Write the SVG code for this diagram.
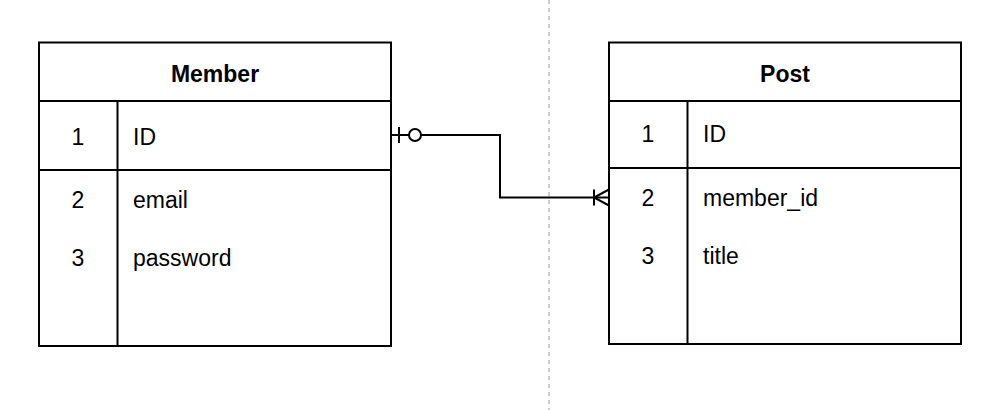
<svg xmlns="http://www.w3.org/2000/svg" width="997" height="410" viewBox="0 0 997 410">
<style>
.box{fill:#fff;stroke:#000;stroke-width:2}
.ln{stroke:#000;stroke-width:2;fill:none}
.t{font-family:"Liberation Sans",Arial,sans-serif;font-size:23px;fill:#000}
.h{font-family:"Liberation Sans",Arial,sans-serif;font-size:23px;font-weight:bold;fill:#000;text-anchor:middle}
.n{text-anchor:middle}
</style>
<rect width="997" height="410" fill="#fff"/>
<line x1="549" y1="0" x2="549" y2="410" stroke="#ccc" stroke-width="2" stroke-dasharray="4 4"/>
<g id="member">
<rect class="box" x="39" y="42.5" width="352" height="303.5"/>
<line class="ln" x1="39" y1="101" x2="391" y2="101"/>
<line class="ln" x1="39" y1="170" x2="391" y2="170"/>
<line class="ln" x1="117.5" y1="101" x2="117.5" y2="346"/>
<text class="h" x="215" y="81.5">Member</text>
<text class="t n" x="78" y="145">1</text>
<text class="t" x="133" y="145">ID</text>
<text class="t n" x="78" y="208">2</text>
<text class="t" x="133" y="208">email</text>
<text class="t n" x="78" y="266">3</text>
<text class="t" x="133" y="266">password</text>
</g>
<g id="post">
<rect class="box" x="609" y="42.5" width="352" height="301.5"/>
<line class="ln" x1="609" y1="101" x2="961" y2="101"/>
<line class="ln" x1="609" y1="168" x2="961" y2="168"/>
<line class="ln" x1="687.5" y1="101" x2="687.5" y2="344"/>
<text class="h" x="785" y="81.5">Post</text>
<text class="t n" x="648" y="142">1</text>
<text class="t" x="703" y="142">ID</text>
<text class="t n" x="648" y="206">2</text>
<text class="t" x="703" y="206">member_id</text>
<text class="t n" x="648" y="264">3</text>
<text class="t" x="703" y="264">title</text>
</g>
<g id="connectors">
<path class="ln" d="M391 135 H409 M421 135 H500 V197.5 H609"/>
<line class="ln" x1="399" y1="127" x2="399" y2="143"/>
<circle class="ln" cx="415" cy="135" r="6"/>
<path class="ln" d="M609 189.5 L594 197.5 L609 205.5"/>
<line class="ln" x1="594" y1="189.5" x2="594" y2="205.5"/>
</g>
</svg>
